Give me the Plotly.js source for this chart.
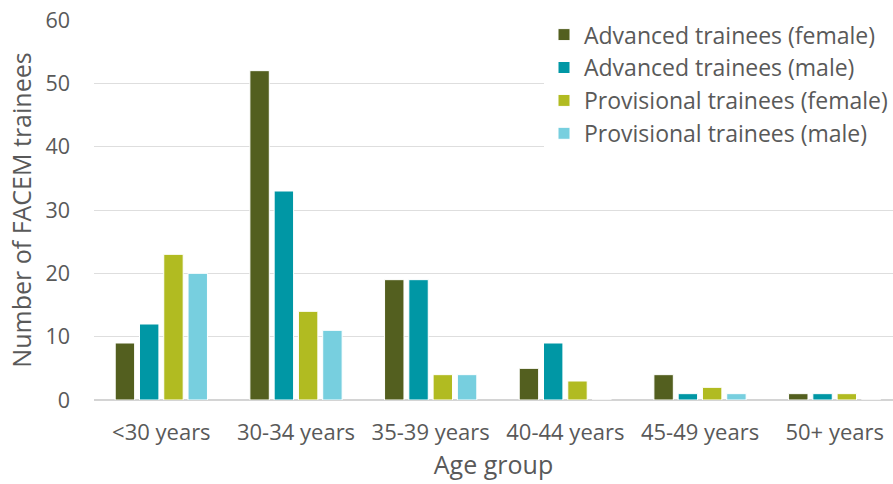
<!DOCTYPE html>
<html>
<head>
<meta charset="utf-8">
<script src="https://cdn.plot.ly/plotly-3.0.1.min.js"></script>
<style>
  html, body { margin: 0; padding: 0; background: #ffffff; }
  #chart { width: 893px; height: 484px; }
</style>
</head>
<body>
<div id="chart"></div>
<script>
// Age groups and trainee counts per series
const ageGroups = ['<30 years', '30-34 years', '35-39 years', '40-44 years', '45-49 years', '50+ years'];
const advancedFemale = [9, 52, 19, 5, 4, 1];
const advancedMale = [12, 33, 19, 9, 1, 1];
const provisionalFemale = [23, 14, 4, 3, 2, 1];
const provisionalMale = [20, 11, 4, 0, 1, 0];

const seriesNames = ['Advanced trainees (female)', 'Advanced trainees (male)', 'Provisional trainees (female)', 'Provisional trainees (male)'];
const seriesValues = [advancedFemale, advancedMale, provisionalFemale, provisionalMale];
const seriesColors = ['#535f1f', '#0097a5', '#b1bb21', '#77cfdf'];

const FONT = 'Open Sans, Noto Sans, sans-serif';
const TEXT = '#595959';

const traces = seriesNames.map((name, i) => ({
  type: 'bar',
  name: name,
  x: ageGroups,
  y: seriesValues[i],
  marker: { color: seriesColors[i], line: { color: '#ffffff', width: 1 } },
  hoverinfo: 'x+y+name'
}));

const layout = {
  width: 893,
  height: 484,
  margin: { l: 94, r: 0, t: 20, b: 84 },
  paper_bgcolor: '#ffffff',
  plot_bgcolor: '#ffffff',
  font: { family: FONT, color: TEXT, size: 22 },
  barmode: 'group',
  bargap: 0.279,
  bargroupgap: 0.2,
  showlegend: true,
  legend: {
    x: 1, y: 1.018, xanchor: 'right', yanchor: 'top',
    bgcolor: '#ffffff',
    font: { family: FONT, size: 23, color: TEXT },
    itemwidth: 30,
    traceorder: 'normal'
  },
  xaxis: {
    type: 'category',
    // the last category runs slightly past the right edge of the figure
    range: [-0.5, 5.433],
    showgrid: false,
    showline: false,
    ticks: '',
    ticklabelstandoff: 17,
    tickfont: { size: 22, color: TEXT },
    title: { text: 'Age group', font: { size: 25, color: TEXT }, standoff: 11 }
  },
  yaxis: {
    range: [0, 60],
    dtick: 10,
    showgrid: true,
    gridcolor: '#dedede',
    gridwidth: 1,
    zeroline: true,
    zerolinecolor: '#d4d4d4',
    zerolinewidth: 2,
    ticks: '',
    ticklabelstandoff: 23,
    tickfont: { size: 21.5, color: TEXT },
    title: { text: 'Number of FACEM trainees', font: { size: 25, color: TEXT }, standoff: 6 }
  }
};

Plotly.newPlot('chart', traces, layout, { staticPlot: true });
</script>
</body>
</html>
